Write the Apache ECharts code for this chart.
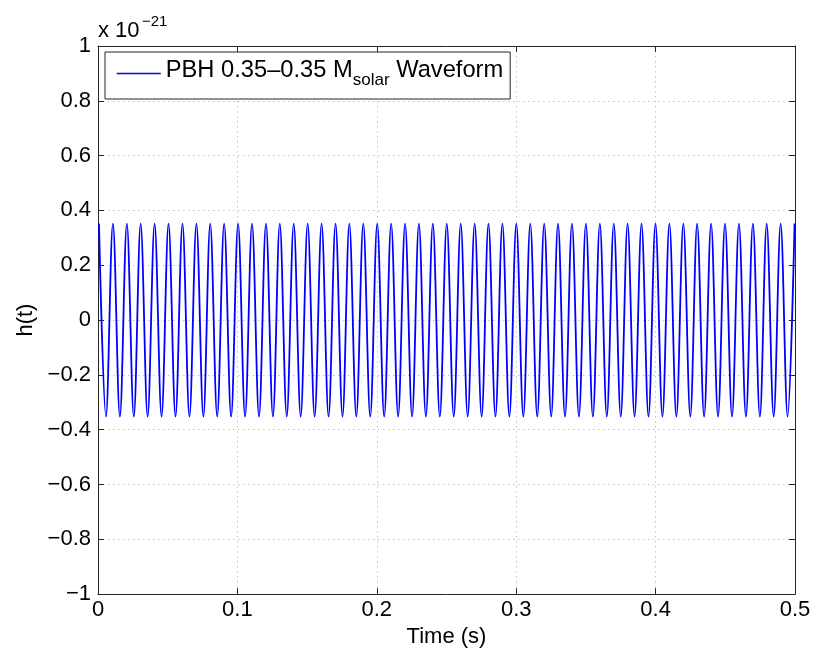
<!DOCTYPE html>
<html>
<head>
<meta charset="utf-8">
<script src="https://cdn.jsdelivr.net/npm/echarts@6/dist/echarts.min.js"></script>
<style>
html,body{margin:0;padding:0;background:#fff;}
#chart{width:817px;height:653px;}
</style>
</head>
<body>
<div id="chart"></div>
<script>
// Times (s) of successive peaks and troughs of the waveform
const extremaTimes = [
  0.0007, 0.0057, 0.0107, 0.0157, 0.0207, 0.0257, 0.0306, 0.0356, 0.0406, 0.0456,
  0.0506, 0.0556, 0.0606, 0.0656, 0.0706, 0.0756, 0.0805, 0.0855, 0.0905, 0.0955,
  0.1005, 0.1055, 0.1105, 0.1155, 0.1205, 0.1255, 0.1304, 0.1354, 0.1404, 0.1454,
  0.1504, 0.1554, 0.1604, 0.1654, 0.1704, 0.1754, 0.1803, 0.1853, 0.1903, 0.1953,
  0.2003, 0.2053, 0.2103, 0.2153, 0.2203, 0.2253, 0.2302, 0.2352, 0.2402, 0.2452,
  0.2502, 0.2552, 0.2602, 0.2652, 0.2702, 0.2752, 0.2801, 0.2851, 0.2901, 0.2951,
  0.3001, 0.3051, 0.3101, 0.3151, 0.3201, 0.3251, 0.3300, 0.3350, 0.3400, 0.3450,
  0.3500, 0.3550, 0.3600, 0.3650, 0.3700, 0.3750, 0.3799, 0.3849, 0.3899, 0.3949,
  0.3999, 0.4049, 0.4099, 0.4149, 0.4199, 0.4249, 0.4298, 0.4348, 0.4398, 0.4448,
  0.4498, 0.4548, 0.4598, 0.4648, 0.4698, 0.4748, 0.4797, 0.4847, 0.4897, 0.4947,
  0.4997
];
// h(t) at those times, in units of 1e-21
const extremaValues = [
  0.352, -0.352, 0.352, -0.352, 0.352, -0.352, 0.352, -0.352, 0.352, -0.352,
  0.352, -0.352, 0.352, -0.352, 0.352, -0.352, 0.352, -0.352, 0.352, -0.352,
  0.352, -0.352, 0.352, -0.352, 0.352, -0.352, 0.352, -0.352, 0.352, -0.352,
  0.352, -0.352, 0.352, -0.352, 0.352, -0.352, 0.352, -0.352, 0.352, -0.352,
  0.352, -0.352, 0.352, -0.352, 0.352, -0.352, 0.352, -0.352, 0.352, -0.352,
  0.352, -0.352, 0.352, -0.352, 0.352, -0.352, 0.352, -0.352, 0.352, -0.352,
  0.352, -0.352, 0.352, -0.352, 0.352, -0.352, 0.352, -0.352, 0.352, -0.352,
  0.352, -0.352, 0.352, -0.352, 0.352, -0.352, 0.352, -0.352, 0.352, -0.352,
  0.352, -0.352, 0.352, -0.352, 0.352, -0.352, 0.352, -0.352, 0.352, -0.352,
  0.352, -0.352, 0.352, -0.352, 0.352, -0.352, 0.352, -0.352, 0.352, -0.352,
  0.352
];
const xTicks = [0, 0.1, 0.2, 0.3, 0.4, 0.5];
const yTicks = [-1, -0.8, -0.6, -0.4, -0.2, 0, 0.2, 0.4, 0.6, 0.8, 1];
const seriesName = 'PBH 0.35–0.35 Msolar Waveform';

const FONT = "'Liberation Sans', Arial, Helvetica, sans-serif";
const AX = '#262626';
const fmtNum = v => String(Number(v.toFixed(2))).replace('-', '\u2212');

const chart = echarts.init(document.getElementById('chart'), null, {renderer: 'canvas'});
const data = extremaTimes.map((t, i) => [t, extremaValues[i]]);

const tickStyle = {show: true, inside: true, length: 6, lineStyle: {color: AX, width: 1}};
const lineStyle = {show: true, onZero: false, lineStyle: {color: AX, width: 1}};
const gridLine = {show: true, lineStyle: {color: '#c4c4c4', type: [1.5, 3.5], width: 1}};

chart.setOption({
  animation: false,
  backgroundColor: '#fff',
  textStyle: {fontFamily: FONT},
  grid: {left: 98, right: 22, top: 46, bottom: 58, containLabel: false},
  legend: {
    show: true,
    left: 105, top: 52,
    orient: 'horizontal',
    padding: [6, 7, 10, 11],
    borderColor: AX, borderWidth: 1, borderRadius: 0,
    backgroundColor: '#fff',
    itemWidth: 44, itemHeight: 14,
    selectedMode: false,
    itemStyle: {opacity: 0},
    lineStyle: {color: '#0000ff', width: 1.5, opacity: 1},
    formatter: '{m|PBH 0.35–0.35 M}{s|solar}{m| Waveform}',
    textStyle: {
      fontFamily: FONT, color: '#000', fontSize: 24,
      rich: {
        m: {fontSize: 23.7, lineHeight: 23, verticalAlign: 'top', fontFamily: FONT, color: '#000'},
        s: {fontSize: 17, padding: [14, 0, 0, 0], verticalAlign: 'bottom', fontFamily: FONT, color: '#000'}
      }
    }
  },
  xAxis: [{
    type: 'value', min: xTicks[0], max: xTicks[xTicks.length - 1], interval: 0.1,
    position: 'bottom',
    axisLine: lineStyle, axisTick: tickStyle, splitLine: gridLine,
    axisLabel: {color: '#000', fontSize: 22, margin: 5, fontFamily: FONT, formatter: fmtNum},
    name: 'Time (s)', nameLocation: 'middle', nameGap: 27,
    nameTextStyle: {color: '#000', fontSize: 22, fontFamily: FONT}
  }, {
    type: 'value', min: xTicks[0], max: xTicks[xTicks.length - 1], interval: 0.1,
    position: 'top',
    axisLine: lineStyle, axisTick: tickStyle, splitLine: {show: false},
    axisLabel: {show: false}
  }],
  yAxis: [{
    type: 'value', min: yTicks[0], max: yTicks[yTicks.length - 1], interval: 0.2,
    position: 'left',
    axisLine: lineStyle, axisTick: tickStyle, splitLine: gridLine,
    axisLabel: {color: '#000', fontSize: 22, margin: 7, fontFamily: FONT, formatter: fmtNum},
    name: 'h(t)', nameLocation: 'middle', nameGap: 57, nameRotate: 90,
    nameTextStyle: {color: '#000', fontSize: 22, fontFamily: FONT}
  }, {
    type: 'value', min: yTicks[0], max: yTicks[yTicks.length - 1], interval: 0.2,
    position: 'right',
    axisLine: lineStyle, axisTick: tickStyle, splitLine: {show: false},
    axisLabel: {show: false}
  }],
  graphic: [
    {type: 'text', left: 98, top: 20, z: 10,
     style: {text: 'x 10', font: '22px ' + FONT, fill: '#000'}},
    {type: 'text', left: 142, top: 14, z: 10,
     style: {text: '\u221221', font: '15px ' + FONT, fill: '#000'}}
  ],
  series: [{
    name: seriesName,
    type: 'line',
    xAxisIndex: 0, yAxisIndex: 0,
    data: data,
    symbol: 'none', showSymbol: false,
    smooth: 0.36,
    clip: true,
    lineStyle: {color: '#0000ff', width: 1.8},
    itemStyle: {color: '#0000ff'}
  }]
});
</script>
</body>
</html>
